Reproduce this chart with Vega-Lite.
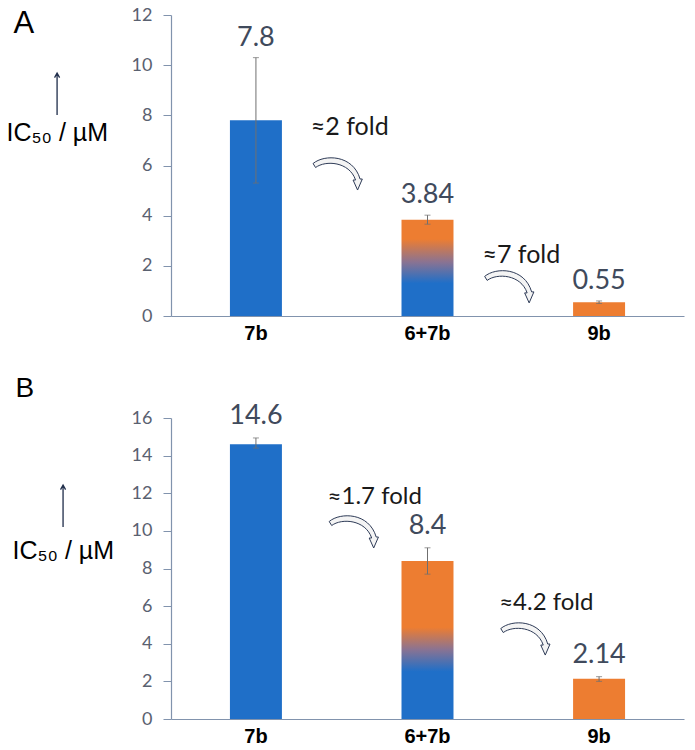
{
  "$schema": "https://vega.github.io/schema/vega-lite/v6.json",
  "background": "white",
  "padding": {"top": 6, "left": 6, "right": 5, "bottom": 5},
  "bounds": "flush",
  "spacing": 102,
  "config": {
    "view": {"stroke": null},
    "axis": {"grid": false, "domainColor": "#8193ad", "tickColor": "#8193ad", "domainWidth": 1.2},
    "axisX": {"ticks": false, "labelAngle": 0, "labelFont": "Liberation Sans", "labelFontWeight": "bold", "labelFontSize": 20, "labelColor": "#000000", "labelPadding": 7},
    "axisY": {"labelFont": "Lato", "labelFontSize": 18, "labelColor": "#5a6170", "labelPadding": 11, "tickSize": 8, "titleAngle": 0, "titleAlign": "left", "titleBaseline": "middle", "titleFont": "Liberation Sans", "titleFontSize": 25, "titleFontWeight": "normal", "titleColor": "#000000"}
  },
  "datasets": {
    "a": [
      {"cat": "7b", "value": 7.8, "lo": 5.3, "hi": 10.3, "label": "7.8"},
      {"cat": "6+7b", "value": 3.84, "lo": 3.66, "hi": 4.02, "label": "3.84"},
      {"cat": "9b", "value": 0.55, "lo": 0.5, "hi": 0.6, "label": "0.55"}
    ],
    "b": [
      {"cat": "7b", "value": 14.6, "lo": 14.4, "hi": 14.94, "label": "14.6"},
      {"cat": "6+7b", "value": 8.4, "lo": 7.7, "hi": 9.1, "label": "8.4"},
      {"cat": "9b", "value": 2.14, "lo": 2.0, "hi": 2.25, "label": "2.14"}
    ],
    "foldA": [
      {"cat": "g1", "y": 7.54, "label": "≈2 fold"},
      {"cat": "g2", "y": 2.43, "label": "≈7 fold"}
    ],
    "arcA": [
      {"cat": "g1", "y": 5.66},
      {"cat": "g2", "y": 1.16}
    ],
    "foldB": [
      {"cat": "g1", "y": 11.8, "label": "≈1.7 fold"},
      {"cat": "g2", "y": 6.17, "label": "≈4.2 fold"}
    ],
    "arcB": [
      {"cat": "g1", "y": 9.94},
      {"cat": "g2", "y": 4.25}
    ],
    "upA": [{"cat": "7b", "y": 8.85}],
    "upB": [{"cat": "7b", "y": 11.32}],
    "letterA": [{"cat": "7b", "y": 12, "label": "A"}],
    "letterB": [{"cat": "7b", "y": 16, "label": "B"}]
  },
  "vconcat": [
    {
      "width": 513,
      "height": 301,
      "encoding": {
        "x": {
          "field": "cat", "type": "nominal",
          "scale": {"domain": ["7b", "g1", "6+7b", "g2", "9b"], "paddingInner": 0.394, "paddingOuter": 0.687},
          "axis": {"title": null, "labelExpr": "datum.value == 'g1' || datum.value == 'g2' ? '' : datum.value"}
        }
      },
      "layer": [
        {
          "data": {"name": "a"},
          "transform": [{"filter": "datum.cat != '6+7b'"}],
          "mark": {"type": "bar"},
          "encoding": {
            "y": {"field": "value", "type": "quantitative", "scale": {"domain": [0, 12], "nice": false},
              "axis": {"values": [0, 2, 4, 6, 8, 10, 12], "title": "IC₅₀ / µM", "titleX": -165, "titleY": 117}},
            "color": {"field": "cat", "type": "nominal", "scale": {"domain": ["7b", "9b"], "range": ["#1f6fc8", "#ed7d31"]}, "legend": null}
          }
        },
        {
          "data": {"name": "a"},
          "transform": [{"filter": "datum.cat == '6+7b'"}],
          "mark": {"type": "bar", "color": {"gradient": "linear", "x1": 0, "y1": 1, "x2": 0, "y2": 0, "stops": [{"offset": 0, "color": "#1f6fc8"}, {"offset": 0.34, "color": "#1f6fc8"}, {"offset": 0.56, "color": "#8a7392"}, {"offset": 0.8, "color": "#ed7d31"}, {"offset": 1, "color": "#ed7d31"}]}},
          "encoding": {"y": {"field": "value", "type": "quantitative",
              "axis": {"values": [0, 2, 4, 6, 8, 10, 12], "title": "IC₅₀ / µM", "titleX": -165, "titleY": 117}}}
        },
        {
          "data": {"name": "a"},
          "mark": {"type": "errorbar", "color": "#6f6f6f", "thickness": 1, "ticks": {"size": 6}},
          "encoding": {"y": {"field": "lo", "type": "quantitative", "title": "IC₅₀ / µM",
              "axis": {"values": [0, 2, 4, 6, 8, 10, 12], "title": "IC₅₀ / µM", "titleX": -165, "titleY": 117}}, "y2": {"field": "hi"}}
        },
        {
          "data": {"name": "a"},
          "mark": {"type": "text", "font": "Lato", "fontSize": 27, "color": "#404a5c", "baseline": "bottom", "dy": -6},
          "encoding": {"y": {"field": "hi", "type": "quantitative",
              "axis": {"values": [0, 2, 4, 6, 8, 10, 12], "title": "IC₅₀ / µM", "titleX": -165, "titleY": 117}}, "text": {"field": "label"}}
        },
        {
          "data": {"name": "foldA"},
          "mark": {"type": "text", "font": "Lato", "fontSize": 25, "color": "#1a1a1a", "baseline": "middle", "dx": 8},
          "encoding": {"y": {"field": "y", "type": "quantitative",
              "axis": {"values": [0, 2, 4, 6, 8, 10, 12], "title": "IC₅₀ / µM", "titleX": -165, "titleY": 117}}, "text": {"field": "label"}}
        },
        {
          "data": {"name": "arcA"},
          "mark": {"type": "point", "filled": true, "opacity": 1, "fill": "#f4f4f4", "stroke": "#2e3b57", "strokeWidth": 1, "size": 2500,
            "shape": "M-1,-0.42 C-0.55,-0.8 0.6,-0.78 0.88,0.2 L0.97,0.2 L0.78,0.64 L0.6,0.24 L0.7,0.24 C0.45,-0.5 -0.5,-0.56 -0.9,-0.26 Z"},
          "encoding": {
            "x": {"field": "cat", "type": "nominal", "bandPosition": 0.43, "axis": {"title": null, "labelExpr": "datum.value == 'g1' || datum.value == 'g2' ? '' : datum.value"}},
            "y": {"field": "y", "type": "quantitative",
              "axis": {"values": [0, 2, 4, 6, 8, 10, 12], "title": "IC₅₀ / µM", "titleX": -165, "titleY": 117}}}
        },
        {
          "data": {"name": "upA"},
          "mark": {"type": "point", "filled": false, "opacity": 1, "stroke": "#1f2d4a", "strokeWidth": 1.3, "size": 1764,
            "shape": "M0,1 L0,-1 M-0.12,-0.78 L0,-1 L0.12,-0.78"},
          "encoding": {
            "x": {"field": "cat", "type": "nominal", "bandPosition": -3.325, "axis": {"title": null, "labelExpr": "datum.value == 'g1' || datum.value == 'g2' ? '' : datum.value"}},
            "y": {"field": "y", "type": "quantitative",
              "axis": {"values": [0, 2, 4, 6, 8, 10, 12], "title": "IC₅₀ / µM", "titleX": -165, "titleY": 117}}}
        },
        {
          "data": {"name": "letterA"},
          "mark": {"type": "text", "font": "Liberation Sans", "fontSize": 31, "color": "#000000", "baseline": "middle", "align": "center", "dx": -232, "dy": 9},
          "encoding": {"y": {"field": "y", "type": "quantitative",
              "axis": {"values": [0, 2, 4, 6, 8, 10, 12], "title": "IC₅₀ / µM", "titleX": -165, "titleY": 117}}, "text": {"field": "label"}}
        }
      ]
    },
    {
      "width": 513,
      "height": 301,
      "encoding": {
        "x": {
          "field": "cat", "type": "nominal",
          "scale": {"domain": ["7b", "g1", "6+7b", "g2", "9b"], "paddingInner": 0.394, "paddingOuter": 0.687},
          "axis": {"title": null, "labelExpr": "datum.value == 'g1' || datum.value == 'g2' ? '' : datum.value"}
        }
      },
      "layer": [
        {
          "data": {"name": "b"},
          "transform": [{"filter": "datum.cat != '6+7b'"}],
          "mark": {"type": "bar"},
          "encoding": {
            "y": {"field": "value", "type": "quantitative", "scale": {"domain": [0, 16], "nice": false},
              "axis": {"values": [0, 2, 4, 6, 8, 10, 12, 14, 16], "title": "IC₅₀ / µM", "titleX": -159, "titleY": 132}},
            "color": {"field": "cat", "type": "nominal", "scale": {"domain": ["7b", "9b"], "range": ["#1f6fc8", "#ed7d31"]}, "legend": null}
          }
        },
        {
          "data": {"name": "b"},
          "transform": [{"filter": "datum.cat == '6+7b'"}],
          "mark": {"type": "bar", "color": {"gradient": "linear", "x1": 0, "y1": 1, "x2": 0, "y2": 0, "stops": [{"offset": 0, "color": "#1f6fc8"}, {"offset": 0.3, "color": "#1f6fc8"}, {"offset": 0.44, "color": "#8a7392"}, {"offset": 0.58, "color": "#ed7d31"}, {"offset": 1, "color": "#ed7d31"}]}},
          "encoding": {"y": {"field": "value", "type": "quantitative",
              "axis": {"values": [0, 2, 4, 6, 8, 10, 12, 14, 16], "title": "IC₅₀ / µM", "titleX": -159, "titleY": 132}}}
        },
        {
          "data": {"name": "b"},
          "mark": {"type": "errorbar", "color": "#6f6f6f", "thickness": 1, "ticks": {"size": 6}},
          "encoding": {"y": {"field": "lo", "type": "quantitative", "title": "IC₅₀ / µM",
              "axis": {"values": [0, 2, 4, 6, 8, 10, 12, 14, 16], "title": "IC₅₀ / µM", "titleX": -159, "titleY": 132}}, "y2": {"field": "hi"}}
        },
        {
          "data": {"name": "b"},
          "mark": {"type": "text", "font": "Lato", "fontSize": 27, "color": "#404a5c", "baseline": "bottom", "dy": -8},
          "encoding": {"y": {"field": "hi", "type": "quantitative",
              "axis": {"values": [0, 2, 4, 6, 8, 10, 12, 14, 16], "title": "IC₅₀ / µM", "titleX": -159, "titleY": 132}}, "text": {"field": "label"}}
        },
        {
          "data": {"name": "foldB"},
          "mark": {"type": "text", "font": "Lato", "fontSize": 24, "color": "#1a1a1a", "baseline": "middle", "dx": 33},
          "encoding": {"y": {"field": "y", "type": "quantitative",
              "axis": {"values": [0, 2, 4, 6, 8, 10, 12, 14, 16], "title": "IC₅₀ / µM", "titleX": -159, "titleY": 132}}, "text": {"field": "label"}}
        },
        {
          "data": {"name": "arcB"},
          "mark": {"type": "point", "filled": true, "opacity": 1, "fill": "#f4f4f4", "stroke": "#2e3b57", "strokeWidth": 1, "size": 2500,
            "shape": "M-1,-0.42 C-0.55,-0.8 0.6,-0.78 0.88,0.2 L0.97,0.2 L0.78,0.64 L0.6,0.24 L0.7,0.24 C0.45,-0.5 -0.5,-0.56 -0.9,-0.26 Z"},
          "encoding": {
            "x": {"field": "cat", "type": "nominal", "bandPosition": 0.74, "axis": {"title": null, "labelExpr": "datum.value == 'g1' || datum.value == 'g2' ? '' : datum.value"}},
            "y": {"field": "y", "type": "quantitative",
              "axis": {"values": [0, 2, 4, 6, 8, 10, 12, 14, 16], "title": "IC₅₀ / µM", "titleX": -159, "titleY": 132}}}
        },
        {
          "data": {"name": "upB"},
          "mark": {"type": "point", "filled": false, "opacity": 1, "stroke": "#1f2d4a", "strokeWidth": 1.3, "size": 1764,
            "shape": "M0,1 L0,-1 M-0.12,-0.78 L0,-1 L0.12,-0.78"},
          "encoding": {
            "x": {"field": "cat", "type": "nominal", "bandPosition": -3.21, "axis": {"title": null, "labelExpr": "datum.value == 'g1' || datum.value == 'g2' ? '' : datum.value"}},
            "y": {"field": "y", "type": "quantitative",
              "axis": {"values": [0, 2, 4, 6, 8, 10, 12, 14, 16], "title": "IC₅₀ / µM", "titleX": -159, "titleY": 132}}}
        },
        {
          "data": {"name": "letterB"},
          "mark": {"type": "text", "font": "Liberation Sans", "fontSize": 28, "color": "#000000", "baseline": "middle", "align": "center", "dx": -231, "dy": -29},
          "encoding": {"y": {"field": "y", "type": "quantitative",
              "axis": {"values": [0, 2, 4, 6, 8, 10, 12, 14, 16], "title": "IC₅₀ / µM", "titleX": -159, "titleY": 132}}, "text": {"field": "label"}}
        }
      ]
    }
  ]
}
